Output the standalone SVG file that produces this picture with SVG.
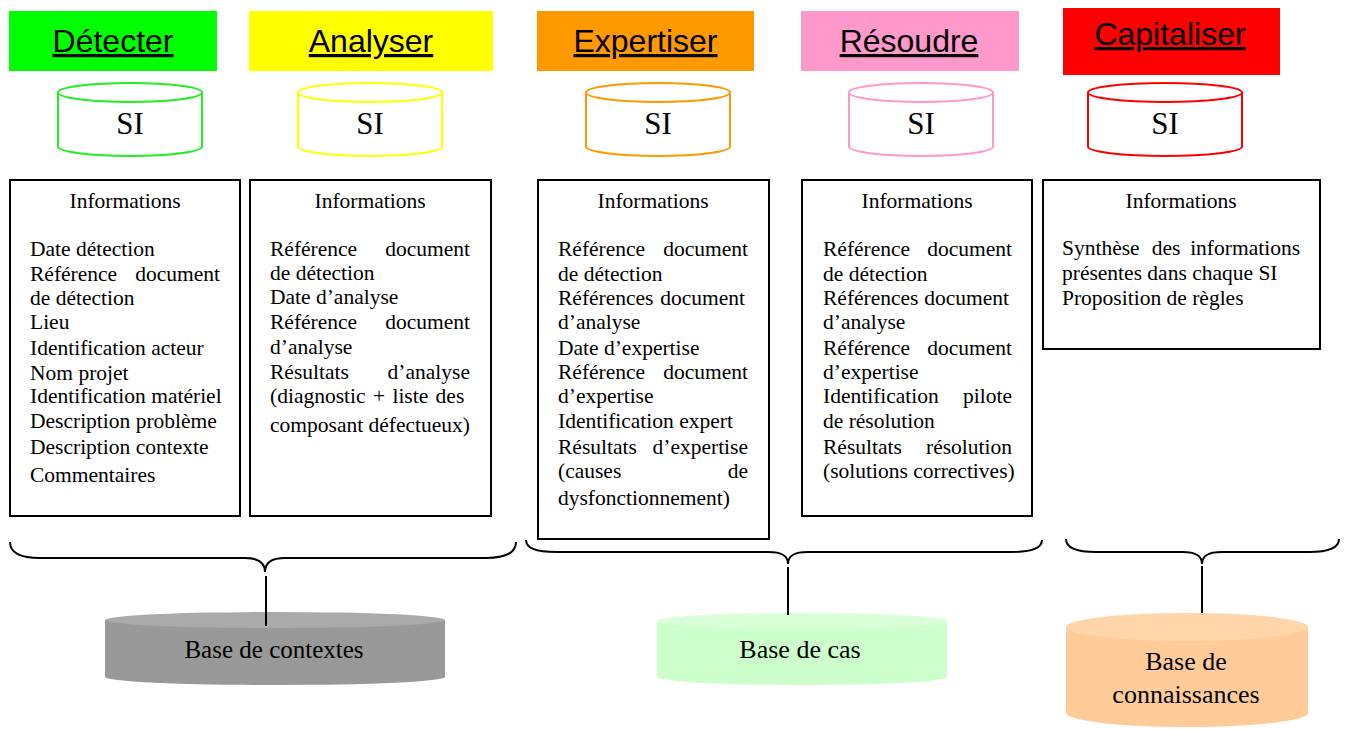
<svg xmlns="http://www.w3.org/2000/svg" width="1346" height="729" viewBox="0 0 1346 729">
<style>
.hd{font-family:"Liberation Sans",Arial,sans-serif;font-size:32px;text-decoration:underline;text-anchor:middle;fill:#000}
.si{font-family:"Liberation Serif","Times New Roman",serif;font-size:31px;text-anchor:middle;fill:#000}
.cyl{fill:#fff;stroke-width:2}
.box{fill:#fff;stroke:#000;stroke-width:2}
.t{font-family:"Liberation Serif","Times New Roman",serif;font-size:21.5px;fill:#000}
.c{text-anchor:middle}
.e{text-anchor:end}
.base{font-family:"Liberation Serif","Times New Roman",serif;font-size:26px;text-anchor:middle;fill:#000}
.br{fill:none;stroke:#000;stroke-width:2}
</style>

<g id="detecter">
<rect x="9" y="11" width="208" height="60" fill="#00ff00"/>
<text class="hd" x="113" y="52">Détecter</text>
<path class="cyl" stroke="#22ee22" d="M58,92.5 L58,146.5 A72,9.5 0 0 0 202,146.5 L202,92.5"/>
<ellipse class="cyl" stroke="#22ee22" cx="130" cy="92.5" rx="72" ry="9.5"/>
<text class="si" x="130" y="134">SI</text>
<rect class="box" x="10" y="180" width="230" height="336"/>
<text class="t c" x="125" y="208">Informations</text>
<text class="t" x="30" y="256">Date détection</text>
<text class="t" x="30" y="281">Référence</text><text class="t e" x="220" y="281">document</text>
<text class="t" x="30" y="305">de détection</text>
<text class="t" x="30" y="329">Lieu</text>
<text class="t" x="30" y="355">Identification acteur</text>
<text class="t" x="30" y="380">Nom projet</text>
<text class="t" x="30" y="403">Identification matériel</text>
<text class="t" x="30" y="428">Description problème</text>
<text class="t" x="30" y="454">Description contexte</text>
<text class="t" x="30" y="482">Commentaires</text>
</g>

<g id="analyser">
<rect x="249" y="11" width="244" height="60" fill="#ffff00"/>
<text class="hd" x="371" y="52">Analyser</text>
<path class="cyl" stroke="#ffff00" d="M298,92.5 L298,146.5 A72,9.5 0 0 0 442,146.5 L442,92.5"/>
<ellipse class="cyl" stroke="#ffff00" cx="370" cy="92.5" rx="72" ry="9.5"/>
<text class="si" x="370" y="134">SI</text>
<rect class="box" x="250" y="180" width="241" height="336"/>
<text class="t c" x="370" y="208">Informations</text>
<text class="t" x="270" y="256">Référence</text><text class="t e" x="470" y="256">document</text>
<text class="t" x="270" y="280">de détection</text>
<text class="t" x="270" y="304">Date d’analyse</text>
<text class="t" x="270" y="329">Référence</text><text class="t e" x="470" y="329">document</text>
<text class="t" x="270" y="354">d’analyse</text>
<text class="t" x="270" y="379">Résultats</text><text class="t e" x="470" y="379">d’analyse</text>
<text class="t" x="270" y="403" word-spacing="2">(diagnostic + liste des</text>
<text class="t" x="270" y="432">composant défectueux)</text>
</g>

<g id="expertiser">
<rect x="537" y="11" width="217" height="60" fill="#ff9900"/>
<text class="hd" x="645.5" y="52">Expertiser</text>
<path class="cyl" stroke="#ff9900" d="M586,92.5 L586,146.5 A72,9.5 0 0 0 730,146.5 L730,92.5"/>
<ellipse class="cyl" stroke="#ff9900" cx="658" cy="92.5" rx="72" ry="9.5"/>
<text class="si" x="658" y="134">SI</text>
<rect class="box" x="538" y="180" width="231" height="359"/>
<text class="t c" x="653" y="208">Informations</text>
<text class="t" x="558" y="256">Référence</text><text class="t e" x="748" y="256">document</text>
<text class="t" x="558" y="281">de détection</text>
<text class="t" x="558" y="305">Références</text><text class="t e" x="745" y="305">document</text>
<text class="t" x="558" y="329">d’analyse</text>
<text class="t" x="558" y="355">Date d’expertise</text>
<text class="t" x="558" y="379">Référence</text><text class="t e" x="748" y="379">document</text>
<text class="t" x="558" y="403">d’expertise</text>
<text class="t" x="558" y="428">Identification expert</text>
<text class="t" x="558" y="454">Résultats</text><text class="t e" x="748" y="454">d’expertise</text>
<text class="t" x="558" y="478">(causes</text><text class="t e" x="748" y="478">de</text>
<text class="t" x="558" y="505">dysfonctionnement)</text>
</g>

<g id="resoudre">
<rect x="801" y="11" width="218" height="60" fill="#ff99cc"/>
<text class="hd" x="909" y="52">Résoudre</text>
<path class="cyl" stroke="#ff99cc" d="M849,92.5 L849,146.5 A72,9.5 0 0 0 993,146.5 L993,92.5"/>
<ellipse class="cyl" stroke="#ff99cc" cx="921" cy="92.5" rx="72" ry="9.5"/>
<text class="si" x="921" y="134">SI</text>
<rect class="box" x="802" y="180" width="230" height="336"/>
<text class="t c" x="917" y="208">Informations</text>
<text class="t" x="823" y="256">Référence</text><text class="t e" x="1012" y="256">document</text>
<text class="t" x="823" y="281">de détection</text>
<text class="t" x="823" y="305">Références</text><text class="t e" x="1009" y="305">document</text>
<text class="t" x="823" y="329">d’analyse</text>
<text class="t" x="823" y="355">Référence</text><text class="t e" x="1012" y="355">document</text>
<text class="t" x="823" y="379">d’expertise</text>
<text class="t" x="823" y="403">Identification</text><text class="t e" x="1012" y="403">pilote</text>
<text class="t" x="823" y="428">de résolution</text>
<text class="t" x="823" y="454">Résultats</text><text class="t e" x="1012" y="454">résolution</text>
<text class="t" x="823" y="478">(solutions correctives)</text>
</g>

<g id="capitaliser">
<rect x="1063" y="8" width="217" height="67" fill="#ff0000"/>
<text class="hd" x="1170" y="45">Capitaliser</text>
<path class="cyl" stroke="#ff0000" d="M1088,92.5 L1088,146.5 A77,9.5 0 0 0 1242,146.5 L1242,92.5"/>
<ellipse class="cyl" stroke="#ff0000" cx="1165" cy="92.5" rx="77" ry="9.5"/>
<text class="si" x="1165" y="134">SI</text>
<rect class="box" x="1043" y="180" width="277" height="169"/>
<text class="t c" x="1181" y="208">Informations</text>
<text class="t" x="1062" y="255">Synthèse</text><text class="t c" x="1166" y="255">des</text><text class="t e" x="1300" y="255">informations</text>
<text class="t" x="1062" y="280">présentes dans chaque SI</text>
<text class="t" x="1062" y="305">Proposition de règles</text>
</g>

<g id="base-contextes">
<path fill="#999999" d="M105,620 L105,677 A170,8 0 0 0 445,677 L445,620 Z"/>
<ellipse fill="#aaaaaa" cx="275" cy="620" rx="170" ry="8"/>
<text class="base" x="274" y="658" style="font-size:25px">Base de contextes</text>
</g>

<g id="base-cas">
<path fill="#ccffcc" d="M657,621 L657,677 A145,8 0 0 0 947,677 L947,621 Z"/>
<ellipse fill="#d9ffd9" cx="802" cy="621" rx="145" ry="8"/>
<text class="base" x="800" y="658">Base de cas</text>
</g>

<g id="base-connaissances">
<path fill="#ffcc99" d="M1066,627 L1066,713 A121,14 0 0 0 1308,713 L1308,627 Z"/>
<ellipse fill="#ffd6aa" cx="1187" cy="627" rx="121" ry="14"/>
<text class="base" x="1186" y="670">Base de</text>
<text class="base" x="1186" y="703">connaissances</text>
</g>

<g id="connectors">
<path class="br" d="M10,542 Q10,558 40,558 L245,558 C258,558 265,562 265,572 C265,562 272,558 285,558 L486,558 Q516,558 516,542"/>
<path class="br" d="M526,540 Q526,552 556,552 L768,552 C781,552 788,555 788,564 C788,555 795,552 808,552 L1012,552 Q1042,552 1042,540"/>
<path class="br" d="M1066,539 Q1066,552 1096,552 L1182,552 C1195,552 1202,555 1202,564 C1202,555 1209,552 1222,552 L1309,552 Q1339,552 1339,539"/>
<line class="br" x1="266" y1="576" x2="266" y2="626"/>
<line class="br" x1="788" y1="567" x2="788" y2="615"/>
<line class="br" x1="1202" y1="566" x2="1202" y2="613"/>
</g>
</svg>
